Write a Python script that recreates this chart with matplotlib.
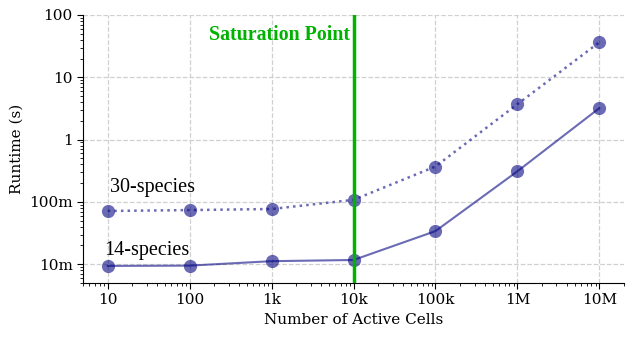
import matplotlib
matplotlib.use("Agg")
import matplotlib.pyplot as plt
from matplotlib.ticker import FixedLocator, FixedFormatter, LogLocator, NullFormatter

cells = [10, 100, 1e3, 1e4, 1e5, 1e6, 1e7]
x_labels = ["10", "100", "1k", "10k", "100k", "1M", "10M"]
rt_30 = [0.0716, 0.074, 0.077, 0.108, 0.37, 3.7, 36.5]
rt_14 = [0.0094, 0.0095, 0.0112, 0.0117, 0.034, 0.31, 3.2]
y_ticks = [0.01, 0.1, 1, 10, 100]
y_labels = ["10m", "100m", "1", "10", "100"]
saturation = 1e4

plt.rcParams['font.family'] = 'DejaVu Serif'
fig = plt.figure(figsize=(6.34, 3.37), dpi=100)
ax = fig.add_axes([83/634, 1 - 283/337, (624-83)/634, (283-15)/337])

ax.set_xscale('log')
ax.set_yscale('log')
ax.set_xlim(5, 2e7)
ax.set_ylim(0.005, 100)

ax.plot(cells, rt_30, color='navy', alpha=0.58, linestyle=':', linewidth=1.8,
        marker='o', markersize=9.5, markeredgewidth=0, zorder=3)
ax.plot(cells, rt_14, color='navy', alpha=0.58, linestyle='-', linewidth=1.5,
        marker='o', markersize=9.5, markeredgewidth=0, zorder=3)

ax.axvline(saturation, color='#00b300', linewidth=2.5, zorder=4)
ax.text(saturation / 1.1, 47, "Saturation Point", color='#00b300', fontsize=14.3,
        fontweight='bold', family='Liberation Serif', ha='right', va='center')

ax.text(10.6, 0.168, "30-species", fontsize=14.5, family='Liberation Serif', ha='left', va='center')
ax.text(9.2, 0.0168, "14-species", fontsize=14.5, family='Liberation Serif', ha='left', va='center')

ax.xaxis.set_major_locator(FixedLocator(cells))
ax.xaxis.set_major_formatter(FixedFormatter(x_labels))
ax.xaxis.set_minor_locator(LogLocator(base=10, subs=range(2, 10), numticks=20))
ax.xaxis.set_minor_formatter(NullFormatter())
ax.yaxis.set_major_locator(FixedLocator(y_ticks))
ax.yaxis.set_major_formatter(FixedFormatter(y_labels))
ax.yaxis.set_minor_locator(LogLocator(base=10, subs=range(2, 10), numticks=20))
ax.yaxis.set_minor_formatter(NullFormatter())

ax.tick_params(which='major', labelsize=11, length=4)
ax.tick_params(which='minor', length=2)
ax.spines['top'].set_visible(False)
ax.spines['right'].set_visible(False)
ax.grid(True, which='major', linestyle='--', color='#d0d0d0', linewidth=0.9)
ax.set_axisbelow(True)

ax.set_xlabel("Number of Active Cells", fontsize=11)
ax.set_ylabel("Runtime (s)", fontsize=11)

fig.savefig("out.png", dpi=100)
